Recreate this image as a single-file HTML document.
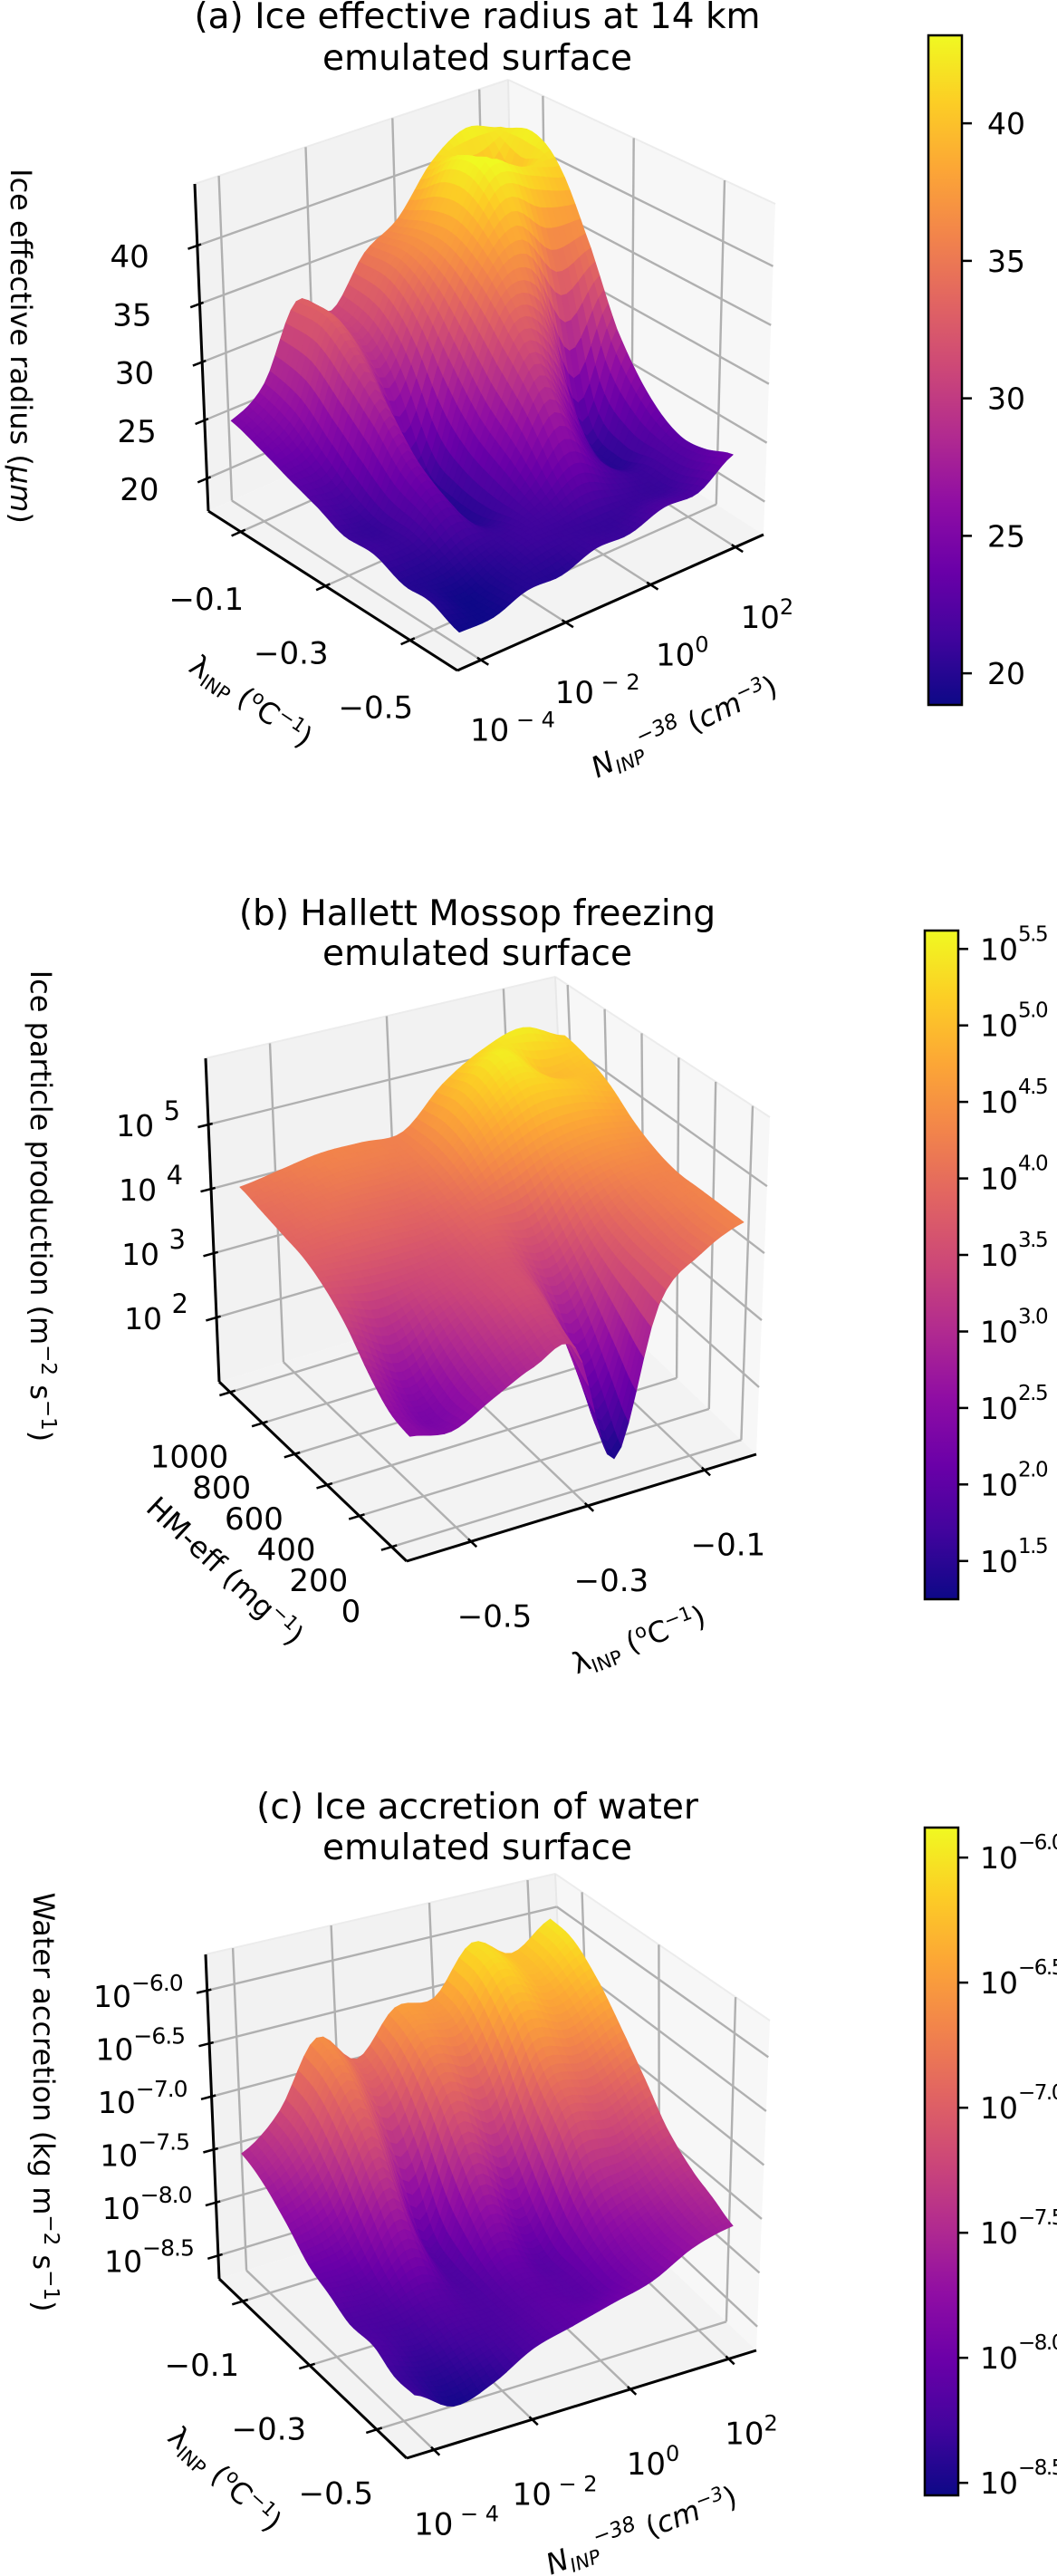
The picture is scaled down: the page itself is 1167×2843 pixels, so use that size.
<!DOCTYPE html>
<html><head><meta charset="utf-8"><title>Emulated surfaces</title>
<style>
html,body{margin:0;padding:0;background:#fff;}
svg{display:block;font-family:"DejaVu Sans","Liberation Sans",sans-serif;}
</style></head>
<body>
<svg id="fig" xmlns="http://www.w3.org/2000/svg" width="1167" height="2843" viewBox="0 0 1167 2843">
<defs>
<linearGradient id="plasmaGrad" x1="0" y1="1" x2="0" y2="0">
<stop offset="0" stop-color="#0d0887"/><stop offset="0.1" stop-color="#41049d"/><stop offset="0.2" stop-color="#6a00a8"/><stop offset="0.3" stop-color="#8f0da4"/><stop offset="0.4" stop-color="#b12a90"/><stop offset="0.5" stop-color="#cc4778"/><stop offset="0.6" stop-color="#e16462"/><stop offset="0.7" stop-color="#f2844b"/><stop offset="0.8" stop-color="#fca636"/><stop offset="0.9" stop-color="#fcce25"/><stop offset="1" stop-color="#f0f921"/>
</linearGradient>
</defs>

<!-- Titles -->
<text x="527" y="31" font-size="39" text-anchor="middle">(a) Ice effective radius at 14 km</text>
<text x="527" y="77" font-size="39" text-anchor="middle">emulated surface</text>
<text x="527" y="1021" font-size="39" text-anchor="middle">(b) Hallett Mossop freezing</text>
<text x="527" y="1065" font-size="39" text-anchor="middle">emulated surface</text>
<text x="527" y="2007" font-size="39" text-anchor="middle">(c) Ice accretion of water</text>
<text x="527" y="2052" font-size="39" text-anchor="middle">emulated surface</text>

<!-- z-axis titles -->
<text transform="translate(12,382) rotate(90)" font-size="32" text-anchor="middle">Ice effective radius (<tspan font-style="italic">μm</tspan>)</text>
<text transform="translate(34,1331) rotate(90)" font-size="32" text-anchor="middle">Ice particle production  (m<tspan dy="-12" font-size="23">−2</tspan><tspan dy="12"> s</tspan><tspan dy="-12" font-size="23">−1</tspan><tspan dy="12">)</tspan></text>
<text transform="translate(37,2320) rotate(90)" font-size="32" text-anchor="middle">Water accretion  (kg  m<tspan dy="-12" font-size="23">−2</tspan><tspan dy="12"> s</tspan><tspan dy="-12" font-size="23">−1</tspan><tspan dy="12">)</tspan></text>

<!-- axis titles on floor -->
<text transform="translate(271,783) rotate(34)" font-size="32" text-anchor="middle">λ<tspan font-size="21" dy="6">INP</tspan><tspan dy="-6"> (</tspan><tspan font-size="21" dy="-12">o</tspan><tspan dy="12">C</tspan><tspan font-size="21" dy="-12">−1</tspan><tspan dy="12">)</tspan></text>
<text transform="translate(760,812) rotate(-25)" font-size="32" text-anchor="middle"><tspan font-style="italic">N</tspan><tspan font-size="21" dy="6" font-style="italic">INP</tspan><tspan font-size="23" dy="-20" font-style="italic">−38</tspan><tspan dy="14"> (</tspan><tspan font-style="italic">cm</tspan><tspan font-size="21" dy="-12" font-style="italic">−3</tspan><tspan dy="12">)</tspan></text>
<text transform="translate(241,1742) rotate(43)" font-size="32" text-anchor="middle">HM-eff  (mg<tspan font-size="21" dy="-12">−1</tspan><tspan dy="12">)</tspan></text>
<text transform="translate(709,1820) rotate(-21)" font-size="32" text-anchor="middle">λ<tspan font-size="21" dy="6">INP</tspan><tspan dy="-6"> (</tspan><tspan font-size="21" dy="-12">o</tspan><tspan dy="12">C</tspan><tspan font-size="21" dy="-12">−1</tspan><tspan dy="12">)</tspan></text>
<text transform="translate(241,2744) rotate(42)" font-size="32" text-anchor="middle">λ<tspan font-size="21" dy="6">INP</tspan><tspan dy="-6"> (</tspan><tspan font-size="21" dy="-12">o</tspan><tspan dy="12">C</tspan><tspan font-size="21" dy="-12">−1</tspan><tspan dy="12">)</tspan></text>
<text transform="translate(712,2803) rotate(-20.5)" font-size="32" text-anchor="middle"><tspan font-style="italic">N</tspan><tspan font-size="21" dy="6" font-style="italic">INP</tspan><tspan font-size="23" dy="-20" font-style="italic">−38</tspan><tspan dy="14"> (</tspan><tspan font-style="italic">cm</tspan><tspan font-size="21" dy="-12" font-style="italic">−3</tspan><tspan dy="12">)</tspan></text>

<g id="plots"></g>
</svg>

<script>
// ---------- Panel (a) data: ice effective radius (um) ----------
const aLam = [-0.05,-0.12,-0.18,-0.25,-0.31,-0.38,-0.45,-0.51,-0.58];
const aLogN = [-4.2,-3.4,-2.6,-1.8,-1.0,-0.2,0.6,1.4,2.2];
const aZ = [
 [25,27,33,31,35,37,41,43,42],
 [24,26,33,30,35,38,43,37,43],
 [23,24,31,27,33,38,43,42,41],
 [22,22,28,21,29,36,38,34,35],
 [21,21,25,20,26,33,31,22,29],
 [21,21,23,20,24,29,24,20,25],
 [20,20,21,21,22,24,22,21,23],
 [20,19,20,21,21,21,21,21,23],
 [19,19,20,20,21,21,22,22,24]
];
const aZTicks = [20,25,30,35,40];
const aLamTicks = [-0.1,-0.3,-0.5];
const aNTicks = [-4,-2,0,2];
const aCbTicks = [20,25,30,35,40];

// ---------- Panel (b) data: ice particle production (log10) ----------
const bHM = [1000,875,750,625,500,375,250,125,0];
const bLam = [-0.58,-0.51,-0.44,-0.37,-0.30,-0.23,-0.16,-0.09,-0.02];
const bZ = [
 [4.1,4.2,4.3,4.3,4.3,4.9,5.3,5.5,5.2],
 [4.0,4.1,4.2,4.2,4.3,5.0,5.5,5.0,5.1],
 [3.9,4.0,4.0,4.0,4.2,4.8,5.2,5.1,4.9],
 [3.8,3.8,3.8,3.8,4.0,4.3,4.6,4.7,4.6],
 [3.6,3.5,3.5,3.6,3.8,3.7,4.2,4.4,4.4],
 [3.3,3.0,3.3,3.5,3.6,3.2,3.8,4.2,4.3],
 [2.9,2.5,3.0,3.4,3.5,2.6,3.6,4.1,4.3],
 [2.6,2.3,2.8,3.2,3.3,1.9,3.5,4.0,4.3],
 [2.5,2.4,2.7,3.0,3.1,1.3,3.4,4.0,4.3]
];
const bZTicks = [2,3,4,5];
const bHMTicks = [1000,800,600,400,200,0];
const bLamTicks = [-0.5,-0.3,-0.1];
const bCbTicks = [1.5,2.0,2.5,3.0,3.5,4.0,4.5,5.0,5.5];

// ---------- Panel (c) data: water accretion (log10) ----------
const cLam = [-0.06,-0.12,-0.19,-0.25,-0.31,-0.37,-0.44,-0.50,-0.56];
const cLogN = [-4.2,-3.4,-2.6,-1.8,-1.0,-0.2,0.6,1.4,2.2];
const cZ = [
 [-7.5,-7.2,-6.6,-6.9,-6.5,-6.5,-6.05,-6.25,-6.0],
 [-7.6,-7.3,-6.7,-7.1,-6.6,-6.6,-6.1,-6.3,-6.05],
 [-7.8,-7.6,-7.0,-7.6,-6.9,-7.0,-6.4,-6.5,-6.3],
 [-8.0,-7.9,-7.4,-8.1,-7.3,-7.5,-6.8,-6.8,-6.6],
 [-8.1,-8.1,-7.8,-8.2,-7.7,-7.9,-7.1,-7.1,-6.9],
 [-8.2,-8.2,-8.1,-8.2,-8.0,-8.1,-7.5,-7.4,-7.2],
 [-8.2,-8.3,-8.2,-8.2,-8.1,-8.1,-7.8,-7.6,-7.4],
 [-8.3,-8.4,-8.3,-8.2,-8.1,-8.1,-7.9,-7.7,-7.5],
 [-8.3,-8.5,-8.4,-8.2,-8.1,-8.0,-7.9,-7.7,-7.6]
];
const cZTicks = [-8.5,-8.0,-7.5,-7.0,-6.5,-6.0];
const cLamTicks = [-0.1,-0.3,-0.5];
const cNTicks = [-4,-2,0,2];
const cCbTicks = [-8.5,-8.0,-7.5,-7.0,-6.5,-6.0];

const NS = 'http://www.w3.org/2000/svg';
const root = document.getElementById('plots');
const PLASMA = [[13,8,135],[65,4,157],[106,0,168],[143,13,164],[177,42,144],[204,71,120],[225,100,98],[242,132,75],[252,166,54],[252,206,37],[240,249,33]];
function cmap(t){
  t = Math.max(0, Math.min(1, t));
  const x = t*10; const i = Math.min(9, Math.floor(x)); const f = x - i;
  const a = PLASMA[i], b = PLASMA[i+1];
  return 'rgb(' + [0,1,2].map(k => Math.round(a[k] + (b[k]-a[k])*f)).join(',') + ')';
}
function mk(tag, parent){ const e = document.createElementNS(NS, tag); parent.appendChild(e); return e; }
function fmt(v, d){ return (v < 0 ? '−' : '') + Math.abs(v).toFixed(d); }

const panels = [
 { id:'a', L:[230,564], F:[505,740], R:[843,590], B:[568,414], LT:[215,203], FT:[510,340], RT:[856,225], BT:[561,88],
   uOf: x => 0.13 + (-0.1 - x)/0.2*0.34, vOf: y => 0.077 + (y + 4)*0.1385, wOf: z => (z - 17.2)/28.1,
   xs: aLam, ys: aLogN, Z: aZ, cmin: 18.85, cmax: 43.2,
   zTicks: aZTicks, uTicks: aLamTicks, vTicks: aNTicks, cbTicks: aCbTicks,
   cb: {x:1025, y:39, w:37, h:739}, zLab: 'plain', uFmt: v => fmt(v,1), vLab: 'pow',
   zOff:[-53,24], uOff:[-38,86], vOff:[35,89], cbLog:false },
 { id:'b', L:[242,1525], F:[449,1723], R:[835,1605], B:[628,1407], LT:[227,1168], FT:[452,1330], RT:[850,1233], BT:[613,1078],
   uOf: x => 0.058 + (1000 - x)/1000*0.862, vOf: y => 0.184 + (y + 0.5)/0.4*0.668, wOf: z => (z - 1.0)/5.03,
   xs: bHM, ys: bLam, Z: bZ, cmin: 1.25, cmax: 5.62,
   zTicks: bZTicks, uTicks: bHMTicks, vTicks: bLamTicks, cbTicks: bCbTicks,
   cb: {x:1021, y:1027, w:37, h:738}, zLab: 'powInt', uFmt: v => String(v), vLab: 'lam',
   zOff:[-31,13], uOff:[-45,83], vOff:[26,94], cbLog:true },
 { id:'c', L:[242,2515], F:[449,2713], R:[835,2594], B:[628,2396], LT:[227,2157], FT:[452,2320], RT:[850,2230], BT:[613,2068],
   uOf: x => 0.125 + (-0.1 - x)/0.4*0.715, vOf: y => 0.078 + (y + 4)/2*0.281, wOf: z => (z + 8.72)/3.06,
   xs: cLam, ys: cLogN, Z: cZ, cmin: -8.55, cmax: -5.88,
   zTicks: cZTicks, uTicks: cLamTicks, vTicks: cNTicks, cbTicks: cCbTicks,
   cb: {x:1021, y:2017, w:37, h:737}, zLab: 'powDec', uFmt: v => fmt(v,1), vLab: 'pow',
   zOff:[-27,18], uOff:[-45,82], vOff:[25,94], cbLog:true }
];

function proj(p, u, v, w){
  const c = (A,Bq,Cq,D) => [0,1].map(k => A[k]*(1-u)*(1-v) + Bq[k]*u*(1-v) + Cq[k]*u*v + D[k]*(1-u)*v);
  const b = c(p.L, p.F, p.R, p.B), t = c(p.LT, p.FT, p.RT, p.BT);
  return [b[0] + w*(t[0]-b[0]), b[1] + w*(t[1]-b[1])];
}
function line(g, a, b, color, width, name){
  const l = mk('line', g);
  l.setAttribute('x1', a[0].toFixed(1)); l.setAttribute('y1', a[1].toFixed(1));
  l.setAttribute('x2', b[0].toFixed(1)); l.setAttribute('y2', b[1].toFixed(1));
  l.setAttribute('stroke', color); l.setAttribute('stroke-width', width);
  
  
  return l;
}
function poly(g, pts, fill, name){
  const e = mk('polygon', g);
  e.setAttribute('points', pts.map(q => q[0].toFixed(1) + ',' + q[1].toFixed(1)).join(' '));
  e.setAttribute('fill', fill);
  
  
  return e;
}
function label(g, x, y, base, sup, anchor, size, supSize, supDy, name, supSpacing){
  const t = mk('text', g);
  t.setAttribute('x', x.toFixed(1)); t.setAttribute('y', y.toFixed(1));
  t.setAttribute('font-size', size); t.setAttribute('text-anchor', anchor);
  
  
  const s1 = mk('tspan', t); s1.textContent = base;
  if (sup !== null){
    const s2 = mk('tspan', t); s2.textContent = sup;
    s2.setAttribute('font-size', supSize); s2.setAttribute('dy', supDy);
    if (supSpacing) s2.setAttribute('letter-spacing', supSpacing);
  }
  return t;
}
function cr(p0,p1,p2,p3,t){
  return 0.5*((2*p1) + (-p0+p2)*t + (2*p0-5*p1+4*p2-p3)*t*t + (-p0+3*p1-3*p2+p3)*t*t*t);
}
function interp2(Z, fi, fj){
  const n = Z.length, m = Z[0].length;
  const i = Math.min(n-2, Math.floor(fi)), j = Math.min(m-2, Math.floor(fj));
  const ti = fi - i, tj = fj - j;
  const row = r => { r = Math.max(0, Math.min(n-1, r)); const R = Z[r];
    const g = c => R[Math.max(0, Math.min(m-1, c))];
    return cr(g(j-1), g(j), g(j+1), g(j+2), tj); };
  return cr(row(i-1), row(i), row(i+1), row(i+2), ti);
}
function lin(arr, f){ const i = Math.min(arr.length-2, Math.floor(f)); const t = f - i; return arr[i] + (arr[i+1]-arr[i])*t; }

panels.forEach(p => {
  const g = mk('g', root);
  
  

  poly(g, [proj(p,0,0,0), proj(p,0,1,0), proj(p,0,1,1), proj(p,0,0,1)], '#f2f2f2', 'back-left-pane');
  poly(g, [proj(p,0,1,0), proj(p,1,1,0), proj(p,1,1,1), proj(p,0,1,1)], '#f7f7f7', 'back-right-pane');
  poly(g, [proj(p,0,0,0), proj(p,1,0,0), proj(p,1,1,0), proj(p,0,1,0)], '#f3f3f3', 'floor-pane');
  const GC = '#b0b0b0', GW = 2.4;
  line(g, proj(p,0,0,1), proj(p,0,1,1), '#ececec', 2, 'pane-top-edge');
  line(g, proj(p,0,1,1), proj(p,1,1,1), '#ececec', 2, 'pane-top-edge');
  line(g, proj(p,0,1,0), proj(p,0,1,1), '#e8e8e8', 2, 'pane-corner-edge');

  p.uTicks.forEach(x => { const u = p.uOf(x);
    line(g, proj(p,u,0,0), proj(p,u,1,0), GC, GW, 'floor-grid-line');
    line(g, proj(p,u,1,0), proj(p,u,1,1), GC, GW, 'right-pane-grid-line'); });
  p.vTicks.forEach(y => { const v = p.vOf(y);
    line(g, proj(p,0,v,0), proj(p,1,v,0), GC, GW, 'floor-grid-line');
    line(g, proj(p,0,v,0), proj(p,0,v,1), GC, GW, 'left-pane-grid-line'); });
  p.zTicks.forEach(z => { const w = p.wOf(z);
    line(g, proj(p,0,0,w), proj(p,0,1,w), GC, GW, 'left-pane-grid-line');
    line(g, proj(p,0,1,w), proj(p,1,1,w), GC, GW, 'right-pane-grid-line'); });

  line(g, proj(p,0,0,0), proj(p,0,0,1), '#000', 3, 'z-axis-line');
  line(g, proj(p,0,0,0), proj(p,1,0,0), '#000', 3, 'u-axis-line');
  line(g, proj(p,1,0,0), proj(p,1,1,0), '#000', 3, 'v-axis-line');

  p.zTicks.forEach(z => { const w = p.wOf(z);
    line(g, proj(p,0,-0.03,w), proj(p,0,0.012,w), '#000', 2.5, 'z-tick');
    const P = proj(p,0,0,w);
    if (p.zLab === 'plain') label(g, P[0]+p.zOff[0], P[1]+p.zOff[1], String(z), null, 'end', 34, 0, 0, 'z-tick-label');
    else if (p.zLab === 'powInt') label(g, P[0]+p.zOff[0], P[1]+p.zOff[1], '10 ', String(z), 'end', 33, 29, -18, 'z-tick-label');
    else label(g, P[0]+p.zOff[0], P[1]+p.zOff[1], '10', fmt(z,1), 'end', 33, 25, -18, 'z-tick-label', '-1');
  });
  p.uTicks.forEach(x => { const u = p.uOf(x);
    line(g, proj(p,u,-0.03,0), proj(p,u,0.015,0), '#000', 2.5, 'u-tick');
    const P = proj(p,u,0,0);
    label(g, P[0]+p.uOff[0], P[1]+p.uOff[1], p.uFmt(x), null, 'middle', 34, 0, 0, 'u-tick-label');
  });
  p.vTicks.forEach(y => { const v = p.vOf(y);
    line(g, proj(p,0.985,v,0), proj(p,1.03,v,0), '#000', 2.5, 'v-tick');
    const P = proj(p,1,v,0);
    if (p.vLab === 'pow') label(g, P[0]+p.vOff[0], P[1]+p.vOff[1], '10', (y < 0 ? ' − ' + Math.abs(y) : String(y)), 'middle', 34, 24, -15, 'v-tick-label');
    else label(g, P[0]+p.vOff[0], P[1]+p.vOff[1], fmt(y,1), null, 'middle', 34, 0, 0, 'v-tick-label');
  });

  const sg = mk('g', g);
  
  
  const N = 48, n = p.Z.length, m = p.Z[0].length;
  const pts = [];
  for (let a = 0; a <= N; a++){
    const row = []; const fi = a*(n-1)/N;
    for (let b = 0; b <= N; b++){
      const fj = b*(m-1)/N;
      const z = interp2(p.Z, fi, fj);
      const u = p.uOf(lin(p.xs, fi)), v = p.vOf(lin(p.ys, fj));
      row.push({s: proj(p, u, v, p.wOf(z)), z: z, u: u, v: v});
    }
    pts.push(row);
  }
  const quads = [];
  for (let a = 0; a < N; a++) for (let b = 0; b < N; b++){
    const q = [pts[a][b], pts[a+1][b], pts[a+1][b+1], pts[a][b+1]];
    const uc = (q[0].u+q[2].u)/2, vc = (q[0].v+q[2].v)/2;
    quads.push({q: q, key: uc - vc, z: (q[0].z+q[1].z+q[2].z+q[3].z)/4});
  }
  quads.sort((A,Bq) => A.key - Bq.key);
  quads.forEach(Q => {
    const col = cmap((Q.z - p.cmin)/(p.cmax - p.cmin));
    const e = mk('polygon', sg);
    e.setAttribute('points', Q.q.map(o => o.s[0].toFixed(1) + ',' + o.s[1].toFixed(1)).join(' '));
    e.setAttribute('fill', col); e.setAttribute('stroke', col);
    e.setAttribute('stroke-width', '0.9'); e.setAttribute('stroke-linejoin', 'round');
    
    
  });

  const cb = p.cb;
  const cg = mk('g', root);
  
  
  const r = mk('rect', cg);
  r.setAttribute('x', cb.x); r.setAttribute('y', cb.y); r.setAttribute('width', cb.w); r.setAttribute('height', cb.h);
  r.setAttribute('fill', 'url(#plasmaGrad)'); r.setAttribute('stroke', '#000'); r.setAttribute('stroke-width', '2.5');
  
  
  const cy = val => cb.y + cb.h*(1 - (val - p.cmin)/(p.cmax - p.cmin));
  p.cbTicks.forEach(val => {
    const y = cy(val);
    line(cg, [cb.x+cb.w, y], [cb.x+cb.w+11, y], '#000', 2.5, 'colorbar-tick');
    if (!p.cbLog) label(cg, cb.x+cb.w+28, y+12, String(val), null, 'start', 33, 0, 0, 'colorbar-tick-label');
    else label(cg, cb.x+cb.w+24, y+12, '10', fmt(val,1), 'start', 33, 23, -21, 'colorbar-tick-label', '-1.5');
  });
});
</script>
</body></html>
